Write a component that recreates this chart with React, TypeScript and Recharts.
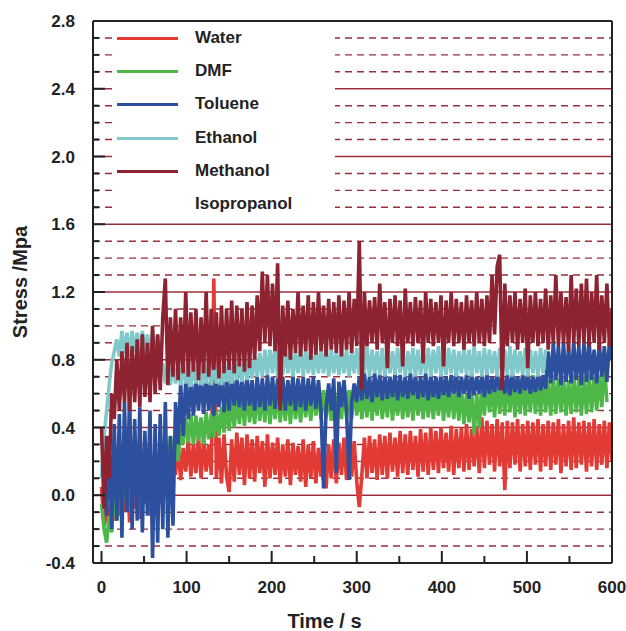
import React from 'react';
import { LineChart, Line, XAxis, YAxis, CartesianGrid, ReferenceLine, Label } from 'recharts';

const SAMPLE_STEP = 3;

const water = [
  0.05, -0.18, -0.05, -0.2, 0.0, -0.15, 0.15, -0.12, 0.2, -0.1,
  0.18, -0.16, 0.22, -0.08, 0.15, -0.14, 0.25, -0.05, 0.2, -0.12,
  0.22, -0.1, 0.18, -0.05, 0.26, 0.08, 0.3, 0.1, 0.27, 0.12,
  0.31, 0.09, 0.28, 0.14, 0.34, 0.11, 0.3, 0.13, 0.35, 0.1,
  0.33, 0.14, 0.3, 0.12, 1.28, 0.1, 0.34, 0.07, 0.36, 0.11,
  0.02, 0.33, 0.08, 0.37, 0.12, 0.34, 0.06, 0.36, 0.1, 0.33,
  0.08, 0.35, 0.13, 0.32, 0.05, 0.36, 0.1, 0.31, 0.12, 0.34,
  0.07, 0.3, 0.11, 0.33, 0.06, 0.31, 0.12, 0.29, 0.08, 0.33,
  0.05, 0.3, 0.1, 0.32, 0.07, 0.28, 0.11, 0.31, 0.04, 0.3,
  0.1, 0.33, 0.07, 0.31, 0.12, 0.34, 0.09, 0.3, 0.11, 0.32,
  0.08, -0.07, 0.12, 0.34, 0.1, 0.35, 0.13, 0.33, 0.09, 0.36,
  0.12, 0.35, 0.1, 0.37, 0.14, 0.34, 0.11, 0.38, 0.13, 0.36,
  0.12, 0.38, 0.15, 0.35, 0.11, 0.39, 0.14, 0.37, 0.12, 0.4,
  0.15, 0.38, 0.13, 0.4, 0.16, 0.37, 0.14, 0.41, 0.12, 0.39,
  0.16, 0.4, 0.14, 0.42, 0.15, 0.39, 0.17, 0.41, 0.13, 0.46,
  0.16, 0.44, 0.18, 0.42, 0.14, 0.45, 0.17, 0.43, 0.03, 0.44,
  0.16, 0.43, 0.18, 0.45, 0.14, 0.42, 0.17, 0.44, 0.15, 0.43,
  0.18, 0.45, 0.14, 0.42, 0.17, 0.44, 0.15, 0.43, 0.18, 0.45,
  0.13, 0.42, 0.17, 0.44, 0.15, 0.46, 0.16, 0.43, 0.18, 0.44,
  0.14, 0.43, 0.17, 0.45, 0.15, 0.42, 0.18, 0.44, 0.16, 0.43,
  0.2,
];

const dmf = [
  -0.05, -0.2, -0.28, -0.12, -0.22, 0.05, -0.15, 0.1, -0.1, 0.15,
  -0.05, 0.2, 0.0, 0.22, -0.05, 0.25, 0.02, 0.28, 0.0, 0.22,
  0.05, 0.28, 0.02, 0.3, 0.1, 0.32, 0.15, 0.35, 0.18, 0.33,
  0.2, 0.4, 0.3, 0.45, 0.31, 0.48, 0.3, 0.47, 0.32, 0.46,
  0.3, 0.49, 0.33, 0.48, 0.34, 0.5, 0.35, 0.52, 0.37, 0.54,
  0.38, 0.56, 0.4, 0.58, 0.42, 0.6, 0.41, 0.62, 0.43, 0.58,
  0.42, 0.62, 0.44, 0.6, 0.43, 0.63, 0.42, 0.6, 0.45, 0.62,
  0.43, 0.6, 0.44, 0.62, 0.42, 0.63, 0.45, 0.6, 0.43, 0.62,
  0.46, 0.6, 0.44, 0.63, 0.47, 0.61, 0.45, 0.62, 0.46, 0.6,
  0.44, 0.63, 0.47, 0.62, 0.45, 0.64, 0.46, 0.62, 0.45, 0.63,
  0.47, 0.64, 0.45, 0.62, 0.46, 0.65, 0.44, 0.63, 0.47, 0.64,
  0.45, 0.62, 0.46, 0.65, 0.44, 0.63, 0.47, 0.64, 0.45, 0.62,
  0.46, 0.65, 0.44, 0.63, 0.47, 0.64, 0.45, 0.62, 0.46, 0.65,
  0.45, 0.63, 0.47, 0.64, 0.44, 0.62, 0.46, 0.65, 0.45, 0.63,
  0.44, 0.64, 0.42, 0.6, 0.43, 0.62, 0.36, 0.6, 0.4, 0.66,
  0.47, 0.68, 0.49, 0.67, 0.46, 0.69, 0.48, 0.67, 0.47, 0.7,
  0.49, 0.68, 0.46, 0.69, 0.48, 0.7, 0.47, 0.68, 0.49, 0.71,
  0.48, 0.69, 0.47, 0.7, 0.49, 0.68, 0.47, 0.71, 0.48, 0.69,
  0.49, 0.7, 0.47, 0.68, 0.48, 0.71, 0.49, 0.69, 0.47, 0.7,
  0.48, 0.72, 0.49, 0.7, 0.5, 0.71, 0.52, 0.78, 0.55, null,
  null,
];

const toluene = [
  0.3, 0.4, -0.12, 0.35, -0.2, 0.42, -0.15, 0.48, -0.25, 0.55,
  -0.1, 0.6, -0.2, 0.45, -0.15, 0.52, -0.22, 0.38, -0.12, 0.5,
  -0.37, 0.42, -0.28, 0.48, -0.2, 0.55, -0.25, 0.35, -0.18, 0.55,
  0.3, 0.66, 0.35, 0.68, 0.45, 0.7, 0.47, 0.68, 0.5, 0.7,
  0.48, 0.69, 0.5, 0.71, 0.47, 0.68, 0.52, 0.7, 0.49, 0.69,
  0.5, 0.71, 0.53, 0.7, 0.52, 0.69, 0.5, 0.71, 0.53, 0.68,
  0.5, 0.7, 0.52, 0.69, 0.5, 0.71, 0.53, 0.7, 0.51, 0.69,
  0.52, 0.7, 0.5, 0.68, 0.53, 0.71, 0.5, 0.69, 0.52, 0.7,
  0.5, 0.69, 0.53, 0.7, 0.51, 0.68, 0.5, 0.04, 0.52, 0.66,
  0.5, 0.69, 0.13, 0.67, 0.52, 0.68, 0.5, 0.09, 0.55, 0.66,
  0.55, 0.7, 0.56, 0.72, 0.57, 0.7, 0.55, 0.72, 0.58, 0.71,
  0.56, 0.72, 0.57, 0.7, 0.58, 0.72, 0.56, 0.71, 0.58, 0.7,
  0.57, 0.72, 0.59, 0.71, 0.57, 0.7, 0.58, 0.72, 0.56, 0.71,
  0.58, 0.7, 0.57, 0.72, 0.59, 0.7, 0.58, 0.71, 0.6, 0.72,
  0.58, 0.7, 0.6, 0.71, 0.57, 0.72, 0.59, 0.7, 0.6, 0.71,
  0.58, 0.72, 0.6, 0.7, 0.61, 0.72, 0.62, 0.7, 0.6, 0.71,
  0.59, 0.72, 0.61, 0.7, 0.6, 0.71, 0.62, 0.72, 0.6, 0.7,
  0.61, 0.72, 0.62, 0.71, 0.63, 0.85, 0.66, 0.9, 0.68, 0.88,
  0.65, 0.9, 0.67, 0.87, 0.66, 0.91, 0.68, 0.88, 0.65, 0.9,
  0.67, 0.92, 0.68, 0.86, 0.66, 0.9, 0.7, 0.88, 0.67, 0.91,
  0.8,
];

const ethanol = [
  0.1, 0.35, 0.5, 0.65, 0.78, 0.85, 0.92, 0.82, 0.97, 0.84,
  0.96, 0.82, 0.97, 0.85, 0.96, 0.83, 0.97, 0.84, 0.95, 0.82,
  0.97, 0.85, 0.94, 0.72, 0.78, 0.66, 0.77, 0.65, 0.78, 0.66,
  0.77, 0.65, 0.78, 0.66, 0.76, 0.64, 0.77, 0.66, 0.78, 0.65,
  0.77, 0.66, 0.78, 0.65, 0.77, 0.66, 0.79, 0.65, 0.78, 0.67,
  0.79, 0.66, 0.8, 0.68, 0.79, 0.67, 0.81, 0.68, 0.8, 0.69,
  0.82, 0.7, 0.84, 0.7, 0.86, 0.71, 0.86, 0.72, 0.88, 0.7,
  0.85, 0.71, 0.87, 0.72, 0.86, 0.7, 0.85, 0.72, 0.87, 0.7,
  0.86, 0.72, 0.85, 0.71, 0.87, 0.72, 0.86, 0.72, 0.88, 0.7,
  0.86, 0.72, 0.85, 0.71, 0.87, 0.72, 0.86, 0.7, 0.85, 0.72,
  0.87, 0.71, 0.86, 0.72, 0.88, 0.7, 0.86, 0.72, 0.85, 0.71,
  0.87, 0.7, 0.86, 0.72, 0.85, 0.71, 0.87, 0.72, 0.86, 0.7,
  0.85, 0.72, 0.87, 0.7, 0.86, 0.71, 0.85, 0.72, 0.87, 0.7,
  0.86, 0.72, 0.88, 0.7, 0.85, 0.71, 0.87, 0.72, 0.86, 0.7,
  0.85, 0.72, 0.87, 0.71, 0.86, 0.7, 0.88, 0.72, 0.85, 0.7,
  0.87, 0.71, 0.86, 0.72, 0.85, 0.7, 0.87, 0.72, 0.86, 0.71,
  0.88, 0.7, 0.86, 0.72, 0.85, 0.71, 0.87, 0.7, 0.86, 0.72,
  0.85, 0.7, 0.87, 0.72, 0.86, null, null, null, null, null,
  null, null, null, null, null, null, null, null, null, null,
  null, null, null, null, null, null, null, null, null, null,
  null,
];

const methanol = [
  0.4, -0.08, 0.35, 0.1, 0.6, 0.45, 0.8, 0.5, 0.85, 0.55,
  0.9, 0.5, 0.88, 0.55, 0.92, 0.52, 0.95, 0.58, 0.9, 0.55,
  1.0, 0.6, 0.95, 0.62, 1.05, 1.28, 0.65, 1.05, 0.7, 1.1,
  0.68, 1.05, 0.72, 1.2, 0.7, 1.08, 0.73, 1.1, 0.68, 1.05,
  0.72, 1.2, 0.7, 1.1, 0.74, 1.08, 0.69, 1.12, 0.72, 1.1,
  0.74, 1.15, 0.72, 1.12, 0.76, 1.1, 0.73, 1.14, 0.75, 1.12,
  0.8, 1.18, 0.85, 1.32, 0.9, 1.3, 0.88, 1.25, 0.85, 1.37,
  0.5, 1.12, 0.82, 1.15, 0.8, 1.1, 0.84, 1.2, 0.82, 1.12,
  0.85, 1.18, 0.8, 1.14, 0.83, 1.2, 0.85, 1.12, 0.82, 1.16,
  0.86, 1.14, 0.84, 1.18, 0.82, 1.15, 0.86, 1.2, 0.84, 1.16,
  0.88, 1.5, 0.62, 1.2, 0.88, 1.15, 0.9, 1.17, 0.86, 1.25,
  0.9, 1.14, 0.75, 1.16, 0.9, 1.18, 0.88, 1.15, 0.76, 1.22,
  0.9, 1.14, 0.88, 1.17, 0.9, 1.15, 0.78, 1.2, 0.9, 1.16,
  0.88, 1.14, 0.9, 1.18, 0.76, 1.15, 0.9, 1.2, 0.88, 1.16,
  0.9, 1.14, 0.86, 1.18, 0.9, 1.15, 0.88, 1.2, 0.9, 1.16,
  0.88, 1.18, 0.9, 1.3, 0.95, 1.35, 1.42, 0.62, 1.25, 0.88,
  1.18, 0.9, 1.2, 0.86, 1.16, 0.9, 1.22, 0.75, 1.18, 0.9,
  1.2, 0.88, 1.16, 0.9, 1.22, 0.86, 1.18, 0.9, 1.3, 0.88,
  1.2, 0.9, 1.17, 0.85, 1.3, 0.9, 1.22, 0.88, 1.25, 0.9,
  1.28, 0.88, 1.2, 0.9, 1.3, 0.86, 1.18, 0.9, 1.25, 0.88,
  1.1,
];

const seriesKeys = ['water', 'dmf', 'toluene', 'ethanol', 'methanol'];
const seriesNames = ['Water', 'DMF', 'Toluene', 'Ethanol', 'Methanol', 'Isopropanol'];
const seriesColors = ['#e23b35', '#4db848', '#2c4f9e', '#80c8c9', '#8d2330', null];

const xTicks = [0, 50, 100, 150, 200, 250, 300, 350, 400, 450, 500, 550, 600];
const yTicks = [
  -0.4, -0.3, -0.2, -0.1, 0.0, 0.1, 0.2, 0.3, 0.4, 0.5, 0.6, 0.7, 0.8, 0.9, 1.0, 1.1, 1.2,
  1.3, 1.4, 1.5, 1.6, 1.7, 1.8, 1.9, 2.0, 2.1, 2.2, 2.3, 2.4, 2.5, 2.6, 2.7, 2.8,
];
const Y_MIN = -0.4;
const Y_MAX = 2.8;

const time = water.map((_, i) => i * SAMPLE_STEP);
const rows = time.map((t, i) => ({
  t,
  water: water[i],
  dmf: dmf[i],
  toluene: toluene[i],
  ethanol: ethanol[i],
  methanol: methanol[i],
}));

const FONT = '"Liberation Sans", Arial, Helvetica, sans-serif';
const INK = '#222';
const GRID = '#9b2f3c';

const isMajorY = (v: number) => Math.round(v * 10) % 4 === 0;
const isMajorX = (v: number) => v % 100 === 0;

const YTick = (props: any) => {
  const { x, y, payload } = props;
  const v = payload.value;
  const major = isMajorY(v);
  return (
    <g>
      <line x1={x} x2={x + (major ? 12 : 6)} y1={y} y2={y} stroke={INK} strokeWidth={2} />
      {major && (
        <text x={x - 18} y={y} dy="0.36em" textAnchor="end" fontFamily={FONT} fontWeight="bold" fontSize={17} fill={INK}>
          {v.toFixed(1)}
        </text>
      )}
    </g>
  );
};

const XTick = (props: any) => {
  const { x, y, payload } = props;
  const v = payload.value;
  const major = isMajorX(v);
  return (
    <g>
      <line x1={x} x2={x} y1={y} y2={y - (major ? 12 : 7)} stroke={INK} strokeWidth={2} />
      {major && (
        <text x={x} y={y + 30} textAnchor="middle" fontFamily={FONT} fontWeight="bold" fontSize={17} fill={INK}>
          {v}
        </text>
      )}
    </g>
  );
};

// grid rows at every 0.1 MPa: solid on labelled ticks, dashed in between
const scaleY = (yAxis: any, offset: any, v: number) => {
  const s = yAxis && yAxis.scale;
  if (typeof s === 'function') return s(v);
  if (s && typeof s.map === 'function') return s.map(v);
  return offset.top + (offset.height * (Y_MAX - v)) / (Y_MAX - Y_MIN);
};

const gridCoords = (major: boolean) => ({ yAxis, offset }: any) =>
  yTicks
    .filter((v) => v > Y_MIN && v < Y_MAX && isMajorY(v) === major)
    .map((v) => scaleY(yAxis, offset, v));

const ChartLegend = () => (
  <div
    style={{
      position: 'absolute',
      left: 112,
      top: 22,
      width: 223,
      height: 193,
      background: '#fff',
      fontFamily: FONT,
      fontWeight: 'bold',
      fontSize: 17,
      color: INK,
    }}
  >
    {seriesNames.map((name, i) => (
      <div key={name} style={{ position: 'absolute', left: 0, top: 16 + i * 33.2 - 10, height: 20, width: 223 }}>
        {seriesColors[i] && (
          <div style={{ position: 'absolute', left: 5, top: 9, width: 61, height: 3, background: seriesColors[i] as string }} />
        )}
        <span style={{ position: 'absolute', left: 83, top: 0, lineHeight: '20px' }}>{name}</span>
      </div>
    ))}
  </div>
);

export default function App() {
  return (
    <div style={{ position: 'absolute', left: 0, top: 0, width: 626, height: 631, background: '#fff' }}>
      <LineChart width={626} height={631} data={rows} margin={{ top: 21, right: 14, left: 0, bottom: 0 }}>
        <CartesianGrid
          vertical={false}
          stroke={GRID}
          strokeDasharray="7 5"
          strokeWidth={1.4}
          horizontalCoordinatesGenerator={gridCoords(false)}
        />
        <CartesianGrid vertical={false} stroke={GRID} strokeWidth={1.4} horizontalCoordinatesGenerator={gridCoords(true)} />
        <XAxis
          dataKey="t"
          type="number"
          domain={[-10, 600]}
          ticks={xTicks}
          allowDataOverflow
          height={68}
          tickSize={0}
          tickMargin={0}
          tick={<XTick />}
          axisLine={{ stroke: INK, strokeWidth: 2 }}
          tickLine={false}
        >
          <Label
            content={(p: any) => {
              const vb = p.viewBox;
              return (
                <text x={vb.x + vb.width / 2 - 28} y={vb.y + 65} textAnchor="middle" fontFamily={FONT} fontWeight="bold" fontSize={20} fill={INK}>
                  Time / s
                </text>
              );
            }}
          />
        </XAxis>
        <YAxis
          type="number"
          domain={[Y_MIN, Y_MAX]}
          ticks={yTicks}
          allowDataOverflow
          width={93}
          tickSize={0}
          tickMargin={0}
          tick={<YTick />}
          axisLine={{ stroke: INK, strokeWidth: 2 }}
          tickLine={false}
          interval={0}
        >
          <Label
            content={(p: any) => {
              const vb = p.viewBox;
              const cx = 20;
              const cy = vb.y + vb.height / 2 - 10;
              return (
                <text x={cx} y={cy} transform={`rotate(-90 ${cx} ${cy})`} dy="0.36em" textAnchor="middle" fontFamily={FONT} fontWeight="bold" fontSize={20} fill={INK}>
                  Stress /Mpa
                </text>
              );
            }}
          />
        </YAxis>
        {seriesKeys.map((k, i) => (
          <Line
            key={k}
            dataKey={k}
            name={seriesNames[i]}
            stroke={seriesColors[i] as string}
            strokeWidth={3.6}
            strokeLinejoin="bevel"
            dot={false}
            type="linear"
            isAnimationActive={false}
          />
        ))}
        <ReferenceLine y={Y_MAX} stroke={INK} strokeWidth={2} />
        <ReferenceLine x={600} stroke={INK} strokeWidth={2} />
      </LineChart>
      <ChartLegend />
    </div>
  );
}
